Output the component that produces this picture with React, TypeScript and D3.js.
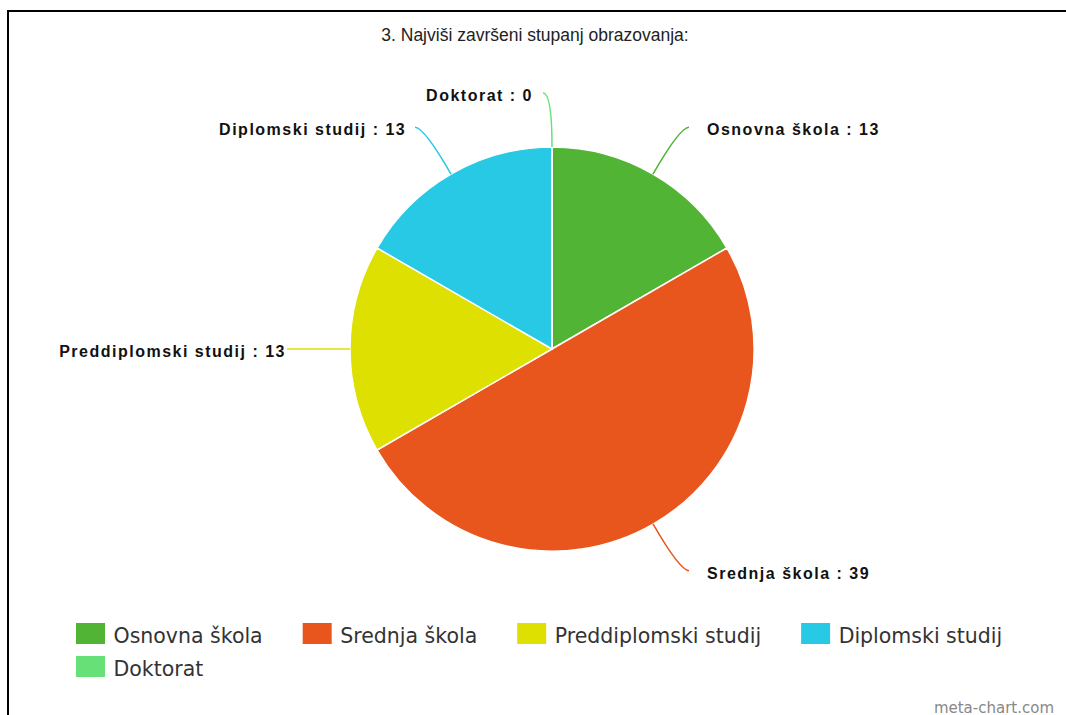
import React, { useLayoutEffect, useRef, useState } from "react";
import * as d3 from "d3";

const categories = ["Osnovna škola", "Srednja škola", "Preddiplomski studij", "Diplomski studij", "Doktorat"];
const values = [13, 39, 13, 13, 0];
const colors = ["#52b435", "#e8561e", "#dde000", "#27c9e4", "#66e077"];
const title = "3. Najviši završeni stupanj obrazovanja:";
const credit = "meta-chart.com";

const W = 1066;
const H = 715;
const cx = 552;
const cy = 349;
const R = 202;
const rEnd = 256;

export default function App() {
  const legendRef = useRef<SVGGElement>(null);
  const [widths, setWidths] = useState<number[]>(categories.map(() => 150));

  useLayoutEffect(() => {
    if (!legendRef.current) return;
    const ws: number[] = [];
    d3.select(legendRef.current)
      .selectAll<SVGTextElement, unknown>("text.measure")
      .each(function () {
        ws.push(this.getComputedTextLength());
      });
    if (ws.length === categories.length) setWidths(ws);
  }, []);

  const data = categories.map((c, i) => ({ name: c, value: values[i], color: colors[i] }));
  const pie = d3.pie<any>().sort(null).value((d) => d.value).startAngle(0).endAngle(2 * Math.PI);
  const arcs = pie(data);
  const arcGen = d3.arc<any>().innerRadius(0).outerRadius(R);

  const polar = (r: number, a: number): [number, number] => [cx + r * Math.sin(a), cy - r * Math.cos(a)];

  // legend layout
  const legendX0 = 76;
  const legendY0 = 623;
  const rowH = 33;
  const sw = 29;
  const sh = 21;
  const textOff = 37.5;
  const gap = 40;
  const maxX = 1030;
  const legendPos: { x: number; y: number }[] = [];
  let lx = legendX0;
  let ly = legendY0;
  widths.forEach((w) => {
    const itemW = textOff + w;
    if (lx + itemW > maxX && lx > legendX0) {
      lx = legendX0;
      ly += rowH;
    }
    legendPos.push({ x: lx, y: ly });
    lx += itemW + gap;
  });

  return (
    <svg width={W} height={H} style={{ position: "absolute", left: 0, top: 0, background: "#fff" }}>
      <line x1={8} y1={10} x2={8} y2={H} stroke="#000" strokeWidth={2} />
      <line x1={7} y1={11} x2={W} y2={11} stroke="#000" strokeWidth={2} />
      <text
        x={535}
        y={40.5}
        textAnchor="middle"
        fontFamily="'Liberation Sans', Arial, sans-serif"
        fontSize={17.5}
        fill="#222"
      >
        {title}
      </text>
      <g>
        {arcs.map((a, i) => (
          <path key={i} d={arcGen(a) as string} transform={`translate(${cx},${cy})`} fill={data[i].color} stroke="#fff" strokeWidth={1.5} />
        ))}
      </g>
      <g>
        {arcs.map((a, i) => {
          const mid = (a.startAngle + a.endAngle) / 2;
          const side = Math.sin(mid) > 0.001 ? 1 : -1;
          const [sx, sy] = polar(R, mid);
          const [qx, qy] = polar(rEnd, mid);
          const ex = qx + side * 9;
          const ey = qy;
          const path = d3.path();
          path.moveTo(sx, sy);
          path.quadraticCurveTo(qx, qy, ex, ey);
          const tgap = side > 0 ? 18 : 9 * Math.abs(Math.cos(mid)) + 1;
          return (
            <g key={i}>
              <path d={path.toString()} fill="none" stroke={data[i].color} strokeWidth={1.5} />
              <text
                x={ex + side * tgap}
                y={ey + 8}
                textAnchor={side > 0 ? "start" : "end"}
                fontFamily="'Liberation Sans', Arial, sans-serif"
                fontWeight="bold"
                fontSize={16}
                letterSpacing={1.5}
                fill="#111"
              >
                {`${data[i].name} : ${data[i].value}`}
              </text>
            </g>
          );
        })}
      </g>
      <g ref={legendRef}>
        {data.map((d, i) => (
          <g key={i} transform={`translate(${legendPos[i].x},${legendPos[i].y})`}>
            <rect width={sw} height={sh} fill={d.color} />
            <text
              className="measure"
              x={textOff}
              y={20}
              fontFamily="'DejaVu Sans', sans-serif"
              fontSize={20.5}
              fill="#333"
            >
              {d.name}
            </text>
          </g>
        ))}
      </g>
      <text x={1054} y={712.5} textAnchor="end" fontFamily="'DejaVu Sans', sans-serif" fontSize={15} fill="#888">
        {credit}
      </text>
    </svg>
  );
}
